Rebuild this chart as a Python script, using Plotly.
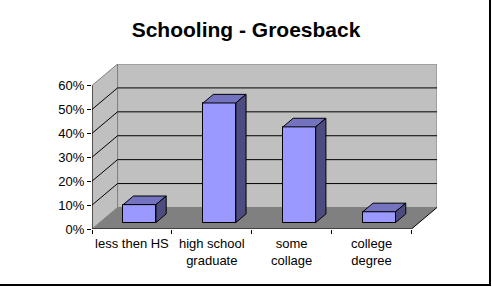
import plotly.graph_objects as go

# ---- data ----
categories = ["less then HS", "high school<br>graduate", "some<br>collage", "college<br>degree"]
values = [7.5, 50, 40, 4.5]          # percent
y_ticks = [0, 10, 20, 30, 40, 50, 60]
y_tick_labels = [f"{v}%" for v in y_ticks]
title = "Schooling - Groesback"

# ---- 3D style constants (data units) ----
DX, DY = 0.32, 9.0        # depth offset of back wall
F0, FD = 0.30, 0.40       # bar front depth fraction, bar depth fraction
BW = 0.41                 # bar width
YMAX = 60
N = len(categories)

FRONT = "#9999FF"
TOP = "#7373BF"
SIDE = "#4C4C80"
WALL = "#C0C0C0"
FLOOR = "#808080"
EDGE = "#808080"

fig = go.Figure()

# bar front faces
xc = [i + 0.5 + F0 * DX for i in range(N)]
base = F0 * DY
fig.add_trace(go.Bar(x=xc, y=values, base=[base] * N, width=BW,
                     marker=dict(color=FRONT, line=dict(color="black", width=1)),
                     hoverinfo="skip", showlegend=False))

# top and side faces
ox, oy = FD * DX, FD * DY
for x, v in zip(xc, values):
    l, r = x - BW / 2, x + BW / 2
    b, t = base, base + v
    fig.add_trace(go.Scatter(x=[l, r, r + ox, l + ox, l], y=[t, t, t + oy, t + oy, t],
                             fill="toself", fillcolor=TOP, mode="lines",
                             line=dict(color="black", width=1), hoverinfo="skip", showlegend=False))
    fig.add_trace(go.Scatter(x=[r, r + ox, r + ox, r, r], y=[b, b + oy, t + oy, t, b],
                             fill="toself", fillcolor=SIDE, mode="lines",
                             line=dict(color="black", width=1), hoverinfo="skip", showlegend=False))

shapes = []
# back wall
shapes.append(dict(type="path", layer="below", xref="x", yref="y",
                   path=f"M{DX},{DY} L{N + DX},{DY} L{N + DX},{YMAX + DY} L{DX},{YMAX + DY} Z",
                   fillcolor=WALL, line=dict(color=EDGE, width=1)))
# side wall
shapes.append(dict(type="path", layer="below", xref="x", yref="y",
                   path=f"M0,0 L{DX},{DY} L{DX},{YMAX + DY} L0,{YMAX} Z",
                   fillcolor=WALL, line=dict(color=EDGE, width=1)))
# floor
shapes.append(dict(type="path", layer="below", xref="x", yref="y",
                   path=f"M0,0 L{N},0 L{N + DX},{DY} L{DX},{DY} Z",
                   fillcolor=FLOOR, line=dict(width=0)))
# gridlines
for v in y_ticks[1:-1]:
    shapes.append(dict(type="line", layer="below", xref="x", yref="y",
                       x0=DX, y0=v + DY, x1=N + DX, y1=v + DY, line=dict(color="black", width=1)))
    shapes.append(dict(type="line", layer="below", xref="x", yref="y",
                       x0=0, y0=v, x1=DX, y1=v + DY, line=dict(color="black", width=1)))
# floor front and right edge
shapes.append(dict(type="path", layer="below", xref="x", yref="y",
                   path=f"M0,0 L{N},0 L{N + DX},{DY}", line=dict(color="black", width=1)))
# y axis line
shapes.append(dict(type="line", layer="above", xref="x", yref="y",
                   x0=0, y0=0, x1=0, y1=YMAX, line=dict(color="black", width=1)))

# outer border (right, bottom)
L, R, T, B = 92, 55, 64, 58
W, H = 492, 287
pw, ph = W - L - R, H - T - B
px = lambda p: (p - L) / pw
py = lambda p: (H - B - p) / ph
shapes.append(dict(type="path", xref="paper", yref="paper",
                   path=f"M{px(490)},{py(0)} L{px(490)},{py(285)} L{px(0)},{py(285)}",
                   line=dict(color="black", width=2)))

fig.update_layout(
    width=W, height=H,
    margin=dict(l=L, r=R, t=T, b=B, pad=0),
    paper_bgcolor="white", plot_bgcolor="rgba(0,0,0,0)",
    font=dict(family="Liberation Sans, Arial, sans-serif", size=13, color="black"),
    title=dict(text=f"<b>{title}</b>", x=0.5, xanchor="center", y=1 - 30 / H, yanchor="middle",
               font=dict(size=21, color="black")),
    shapes=shapes,
    bargap=0,
    xaxis=dict(range=[0, N + DX], tickvals=[i + 0.5 for i in range(N)], ticktext=categories,
               showgrid=False, zeroline=False, showline=False, ticks="", ticklen=0,
               ticklabelstandoff=5,
               minor=dict(tickvals=list(range(N + 1)), ticks="outside", ticklen=4,
                          tickcolor="black", showgrid=False),
               fixedrange=True),
    yaxis=dict(range=[0, YMAX + DY], tickvals=y_ticks, ticktext=y_tick_labels,
               showgrid=False, zeroline=False, showline=False, ticks="outside", ticklen=4,
               tickcolor="black", fixedrange=True),
)

fig.write_html("out.html")
